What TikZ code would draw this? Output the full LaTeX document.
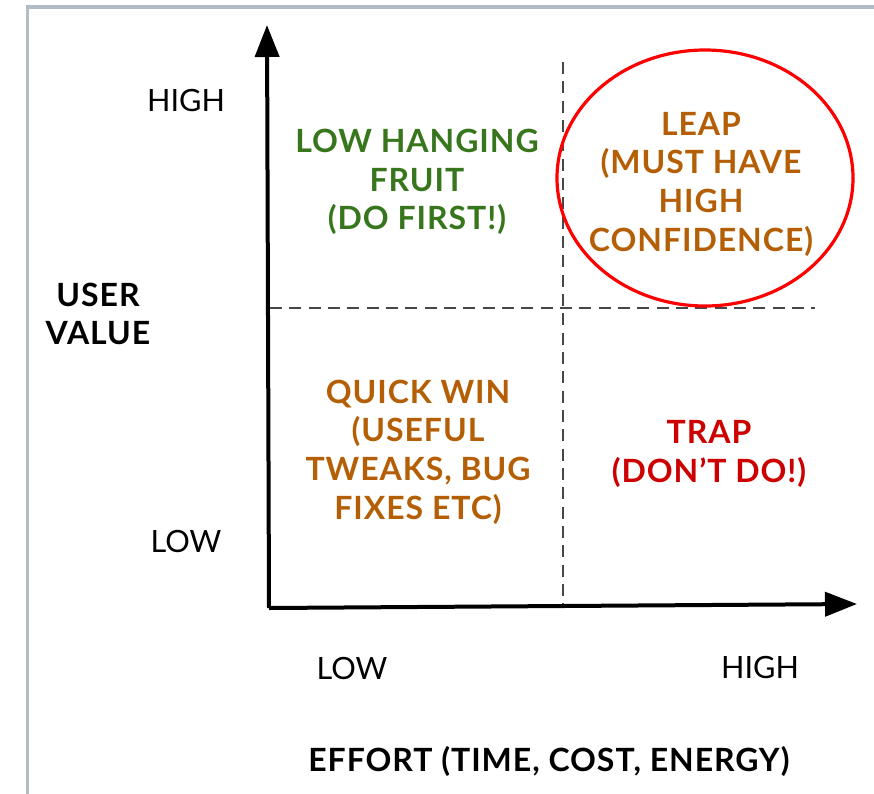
\documentclass[tikz,border=0pt]{standalone}
\usepackage{fontspec}
\setmainfont{Lato}
\newfontfamily\quadfont[LetterSpace=3]{Lato}
\usetikzlibrary{arrows.meta}
\definecolor{fruitgreen}{RGB}{56,118,29}
\definecolor{leaporange}{RGB}{180,95,6}
\definecolor{trapred}{RGB}{204,0,0}
\definecolor{framegray}{RGB}{178,188,198}
\begin{document}
\begin{tikzpicture}[x=0.75pt,y=0.75pt,yscale=-1,xscale=1,
    quadtext/.style={align=center,inner sep=0.75pt,font=\quadfont\fontsize{24}{29}\selectfont\bfseries},
    axistext/.style={align=center,inner sep=0.75pt,font=\quadfont\fontsize{24}{28.5}\selectfont\bfseries},
    ticktext/.style={inner sep=0.75pt,font=\fontsize{23}{26}\selectfont},
    guide/.style={draw=black!72,line width=0.9pt,dash pattern=on 9pt off 5.5pt},
    axis/.style={draw=black,line width=3pt,-{Triangle[length=24pt,width=18pt]}}]
    \path[use as bounding box] (0,0) rectangle (874,793);

    %Frame
    \draw[framegray,line width=2.6pt] (27.5,800) -- (27.5,7) -- (880,7);

    % Axes
    \coordinate (origin) at (269,608);
    \coordinate (ytip) at (267,25);
    \coordinate (xtip) at (857,604);
    \coordinate (vtop) at (563,62);
    \coordinate (vbot) at (563,606);
    \coordinate (hleft) at (270,308);
    \coordinate (hright) at (815,308);
    \draw[guide] (vtop) -- (vbot);
    \draw[guide] (hleft) -- (hright);
    \draw[axis] (origin) -- (ytip);
    \draw[axis] (origin) -- (xtip);

    %Shape: Ellipse
    \draw[red,line width=2.4pt] (705,178) ellipse [x radius=148,y radius=128];

    % Text Node
    \node[ticktext] (yhigh) at (186,101) {HIGH};
    % Text Node
    \node[ticktext] (ylow) at (186,541) {LOW};
    % Text Node
    \node[axistext] (ylabel) at (98,314) {USER\\VALUE};
    % Text Node
    \node[quadtext,text=fruitgreen] (fruit) at (417,182) {LOW HANGING\\FRUIT\\(DO FIRST!)};
    % Text Node
    \node[quadtext,text=leaporange] (leap) at (701,184) {LEAP\\(MUST HAVE\\HIGH\\CONFIDENCE)};
    % Text Node
    \node[quadtext,text=leaporange] (quick) at (418,452) {QUICK WIN\\(USEFUL\\TWEAKS, BUG\\FIXES ETC)};
    % Text Node
    \node[quadtext,text=trapred] (trap) at (709,454) {TRAP\\(DON’T DO!)};
    % Text Node
    \node[ticktext] (xlow) at (352,668) {LOW};
    % Text Node
    \node[ticktext] (xhigh) at (760,668) {HIGH};
    % Text Node
    \node[axistext] (xlabel) at (549,761) {EFFORT (TIME, COST, ENERGY)};
\end{tikzpicture}
\end{document}
